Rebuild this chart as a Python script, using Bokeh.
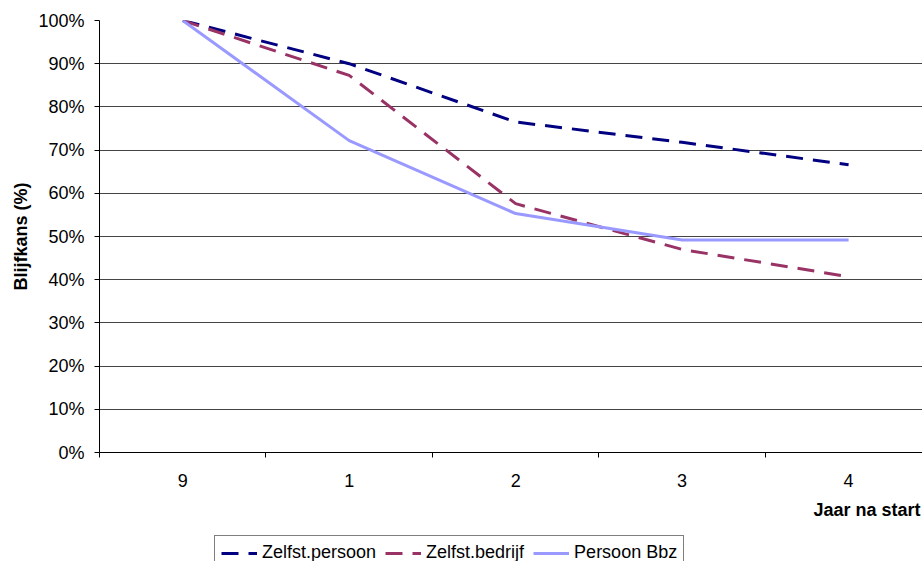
from bokeh.plotting import figure
from bokeh.models import (Range1d, FixedTicker, PrintfTickFormatter, Legend, LegendItem, Title)
from bokeh.layouts import column
from bokeh.embed import file_html
from bokeh.resources import INLINE

categories = ["9", "1", "2", "3", "4"]
zelfst_persoon = [100.0, 90.0, 76.5, 71.8, 66.6]
zelfst_bedrijf = [100.0, 87.3, 57.6, 47.0, 40.7]
persoon_bbz = [100.0, 72.2, 55.3, 49.2, 49.2]
y_ticks = [0, 10, 20, 30, 40, 50, 60, 70, 80, 90, 100]
series_names = ["Zelfst.persoon", "Zelfst.bedrijf", "Persoon Bbz"]

FONT = "Liberation Sans"
COLORS = ["#000080", "#993366", "#9999FF"]
DASHES = ["17 10", "17 10", "solid"]
xs = list(range(len(categories)))
series = [zelfst_persoon, zelfst_bedrijf, persoon_bbz]

p = figure(width=922, height=530, output_backend="svg", toolbar_location=None,
           x_range=Range1d(-0.5, 4.444), y_range=Range1d(0, 100),
           min_border_left=99, min_border_right=0, min_border_top=20,
           min_border_bottom=78)
p.outline_line_color = None
p.background_fill_color = "white"
p.border_fill_color = "white"

for vals, c, d in zip(series, COLORS, DASHES):
    p.line(xs, vals, line_color=c, line_width=3, line_dash=d)

# x axis
xa = p.xaxis[0]
xa.ticker = FixedTicker(ticks=xs, minor_ticks=[i - 0.5 for i in xs])
xa.major_label_overrides = {i: c for i, c in zip(xs, categories)}
xa.major_tick_out = 0
xa.major_tick_in = 0
xa.minor_tick_out = 5
xa.minor_tick_in = 0
xa.minor_tick_line_color = "black"
xa.axis_line_color = "black"
xa.major_label_text_font = FONT
xa.major_label_text_font_size = "18px"
xa.major_label_text_color = "black"
xa.major_label_standoff = 16

xtitle = Title(text="Jaar na start", align="right", text_font=FONT,
               text_font_size="18px", text_font_style="bold", text_color="black",
               standoff=17, offset=2)
p.add_layout(xtitle, "below")

# y axis
ya = p.yaxis[0]
ya.ticker = FixedTicker(ticks=y_ticks, minor_ticks=[])
ya.formatter = PrintfTickFormatter(format="%d%%")
ya.major_tick_out = 5
ya.major_tick_in = 0
ya.major_tick_line_color = "black"
ya.axis_line_color = "black"
ya.major_label_text_font = FONT
ya.major_label_text_font_size = "18px"
ya.major_label_text_color = "black"
ya.major_label_standoff = 10
ya.axis_label = "Blijfkans (%)"
ya.axis_label_text_font = FONT
ya.axis_label_text_font_size = "18px"
ya.axis_label_text_font_style = "bold"
ya.axis_label_text_color = "black"
ya.axis_label_standoff = 4

p.xgrid.grid_line_color = None
p.ygrid.grid_line_color = "#444444"
p.ygrid.grid_line_width = 1

# legend strip below the chart (series drawn off-frame so only the legend shows)
p2 = figure(width=922, height=31, output_backend="svg", toolbar_location=None,
            x_axis_location=None, y_axis_location=None,
            x_range=Range1d(-0.5, 4.444), y_range=Range1d(1000, 1100),
            min_border_left=0, min_border_right=0, min_border_top=0, min_border_bottom=0)
p2.grid.grid_line_color = None
p2.outline_line_color = None
items = []
for name, vals, c, d in zip(series_names, series, COLORS, DASHES):
    r = p2.line(xs, vals, line_color=c, line_width=3, line_dash=d)
    items.append(LegendItem(label=name, renderers=[r]))

legend = Legend(items=items, orientation="horizontal", location=(115, -9))
legend.label_text_font = FONT
legend.label_text_font_size = "18px"
legend.label_text_color = "black"
legend.glyph_width = 36
legend.glyph_height = 20
legend.label_standoff = 5
legend.spacing = 9
legend.padding = 6
legend.margin = 0
legend.border_line_color = "black"
legend.border_line_width = 1
legend.background_fill_alpha = 1
p2.add_layout(legend, "center")

open("out.html", "w").write(file_html(column(p, p2), INLINE))
